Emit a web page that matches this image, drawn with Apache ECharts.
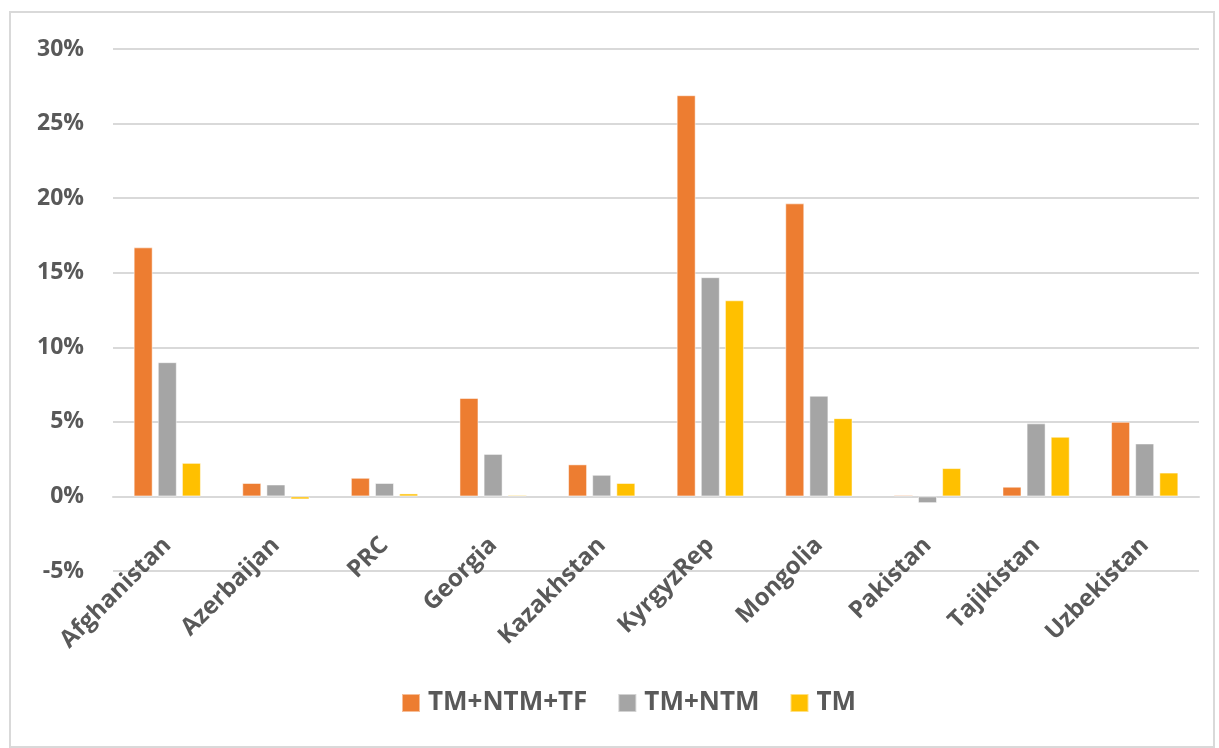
<!DOCTYPE html>
<html>
<head>
<meta charset="utf-8">
<script src="https://cdn.jsdelivr.net/npm/echarts@6/dist/echarts.min.js"></script>
<style>
html,body{margin:0;padding:0;background:#fff;}
#frame{position:absolute;left:9px;top:11px;width:1206px;height:737px;border:2px solid #d9d9d9;box-sizing:border-box;}
#chart{position:absolute;left:0;top:0;width:1219px;height:748px;}
</style>
</head>
<body>
<div id="frame"></div>
<div id="chart"></div>
<script>
const categories = ['Afghanistan','Azerbaijan','PRC','Georgia','Kazakhstan','KyrgyzRep','Mongolia','Pakistan','Tajikistan','Uzbekistan'];
const seriesNames = ['TM+NTM+TF','TM+NTM','TM'];
const tmNtmTf = [16.7, 0.9, 1.25, 6.6, 2.15, 26.9, 19.65, 0.1, 0.65, 5.0];
const tmNtm   = [9.0, 0.8, 0.9, 2.85, 1.45, 14.7, 6.75, -0.45, 4.9, 3.55];
const tm      = [2.25, -0.2, 0.2, 0.1, 0.9, 13.15, 5.25, 1.9, 4.0, 1.6];
const yTicks = {min: -5, max: 30, interval: 5};
const colors = ['#ED7D31','#A5A5A5','#FFC000'];
const textColor = '#595959';
const fontFam = '"Open Sans", sans-serif';

const chart = echarts.init(document.getElementById('chart'));
const mk = (name, data, color) => ({
  name, type: 'bar', data, barWidth: 19, barGap: '27%',
  itemStyle: {color, borderColor: 'rgba(255,255,255,0.5)', borderWidth: 1},
  emphasis: {disabled: true}
});
chart.setOption({
  animation: false,
  color: colors,
  grid: {left: 113, right: 20, top: 49, bottom: 177, containLabel: false},
  legend: {
    left: 396, top: 685, itemWidth: 18, itemHeight: 18, itemGap: 30,
    icon: 'rect',
    textStyle: {color: textColor, fontSize: 26, fontWeight: 'bold', fontFamily: fontFam, padding: [0, 0, 0, 3]},
    data: seriesNames
  },
  xAxis: {
    type: 'category', data: categories,
    position: 'bottom', offset: -74.6,
    axisLine: {onZero: false, lineStyle: {color: '#d9d9d9', width: 2}},
    axisTick: {show: false},
    axisLabel: {rotate: 45, margin: 45, interval: 0, color: textColor, fontSize: 24, fontWeight: 'bold', fontFamily: fontFam}
  },
  yAxis: {
    type: 'value', min: yTicks.min, max: yTicks.max, interval: yTicks.interval,
    axisLine: {show: false}, axisTick: {show: false},
    splitLine: {lineStyle: {color: '#d9d9d9', width: 2}},
    axisLabel: {formatter: '{value}%', margin: 29, color: textColor, fontSize: 23, fontWeight: 'bold', fontFamily: fontFam}
  },
  series: [mk(seriesNames[0], tmNtmTf, colors[0]), mk(seriesNames[1], tmNtm, colors[1]), mk(seriesNames[2], tm, colors[2])]
});
</script>
</body>
</html>
